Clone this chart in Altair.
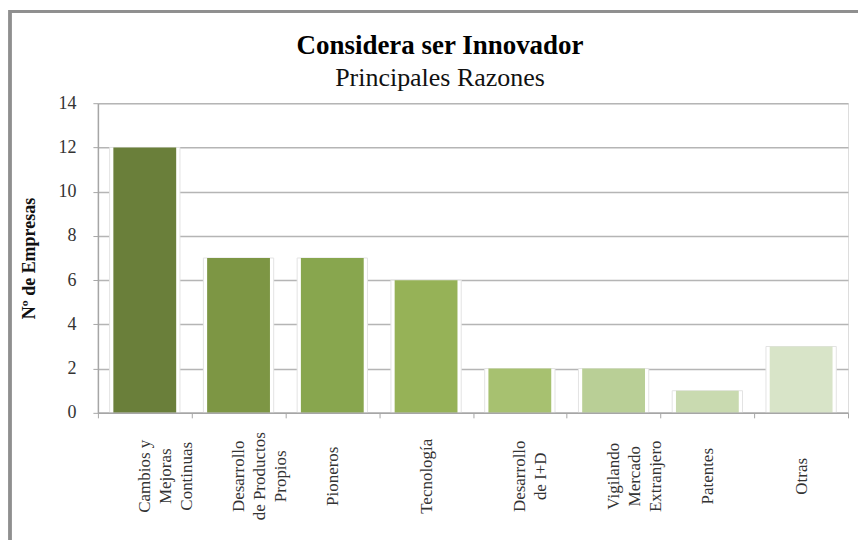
import altair as alt
import pandas as pd

categories = [
    "Cambios y|Mejoras|Continuas",
    "Desarrollo|de Productos|Propios",
    "Pioneros",
    "Tecnología",
    "Desarrollo|de I+D",
    "Vigilando|Mercado|Extranjero",
    "Patentes",
    "Otras",
]
values = [12, 7, 7, 6, 2, 2, 1, 3]
colors = ["#6a7f3a", "#7d9644", "#88a64e", "#96b257", "#a7c170", "#b9cf96", "#c9dab0", "#d8e4c8"]
y_ticks = [0, 2, 4, 6, 8, 10, 12, 14]

df = pd.DataFrame({"cat": categories, "val": values, "color": colors})

SERIF = "Liberation Serif"
TITLE_FONT = "'Liberation Serif', 'Times New Roman', serif"

x_enc = alt.X(
    "cat:N",
    sort=categories,
    scale=alt.Scale(paddingInner=0, paddingOuter=0),
    axis=alt.Axis(
        title=None,
        labelAngle=-90,
        labelAlign="center",
        labelBaseline="middle",
        labelPadding=58,
        labelExpr="split(datum.label, '|')",
        labelFont=SERIF,
        labelFontSize=17,
        labelLineHeight=21,
        labelColor="#333333",
        labelOverlap=False,
        tickBand="extent",
        tickSize=5,
        tickColor="#a6a6a6",
        domainColor="#a6a6a6",
        domainWidth=1.5,
        zindex=1,
    ),
)

y_enc = alt.Y(
    "val:Q",
    scale=alt.Scale(domain=[0, 14], nice=False),
    axis=alt.Axis(
        values=y_ticks,
        title="Nº de Empresas",
        titleFont=SERIF,
        titleFontSize=18,
        titleFontWeight="bold",
        titleColor="#111111",
        titleX=-59,
        titleAngle=-90,
        labelFont=SERIF,
        labelFontSize=18,
        labelColor="#333333",
        labelPadding=17,
        tickSize=5,
        tickColor="#a6a6a6",
        domainColor="#a6a6a6",
        domainWidth=1.5,
        grid=True,
        gridColor="#b5b5b5",
        gridWidth=1.5,
    ),
)

border = alt.Chart(df).mark_rect(
    fill="transparent", stroke="#8f8f8f", strokeWidth=2.5
).encode(
    x=alt.value(-88), x2=alt.value(800), y=alt.value(-92), y2=alt.value(470)
)

halo = alt.Chart(df).mark_bar(
    width=alt.RelativeBandSize(0.75), color="white", stroke="#e3e3e3", strokeWidth=1
).encode(x=x_enc, y=y_enc)

bars = alt.Chart(df).mark_bar(width=alt.RelativeBandSize(0.67)).encode(
    x=x_enc,
    y=y_enc,
    color=alt.Color("color:N", scale=None),
)

chart = alt.layer(border, halo, bars).properties(
    width=751,
    height=310,
    autosize=alt.AutoSizeParams(type="none"),
    padding={"left": 90, "top": 95, "right": 10, "bottom": 127},
    title=alt.TitleParams(
        text="Considera ser Innovador",
        subtitle="Principales Razones",
        font=TITLE_FONT,
        fontSize=27,
        fontWeight="bold",
        color="#000000",
        subtitleFont=TITLE_FONT,
        subtitleFontSize=26,
        subtitleColor="#111111",
        anchor="middle",
        frame="group",
        dx=-33,
        dy=94,
        offset=12,
        subtitlePadding=5,
    ),
).configure_view(stroke=None).configure(background="white").configure_title(
    font=TITLE_FONT, subtitleFont=TITLE_FONT
)

chart.save("out.html", embed_options={"renderer": "svg", "actions": False})
